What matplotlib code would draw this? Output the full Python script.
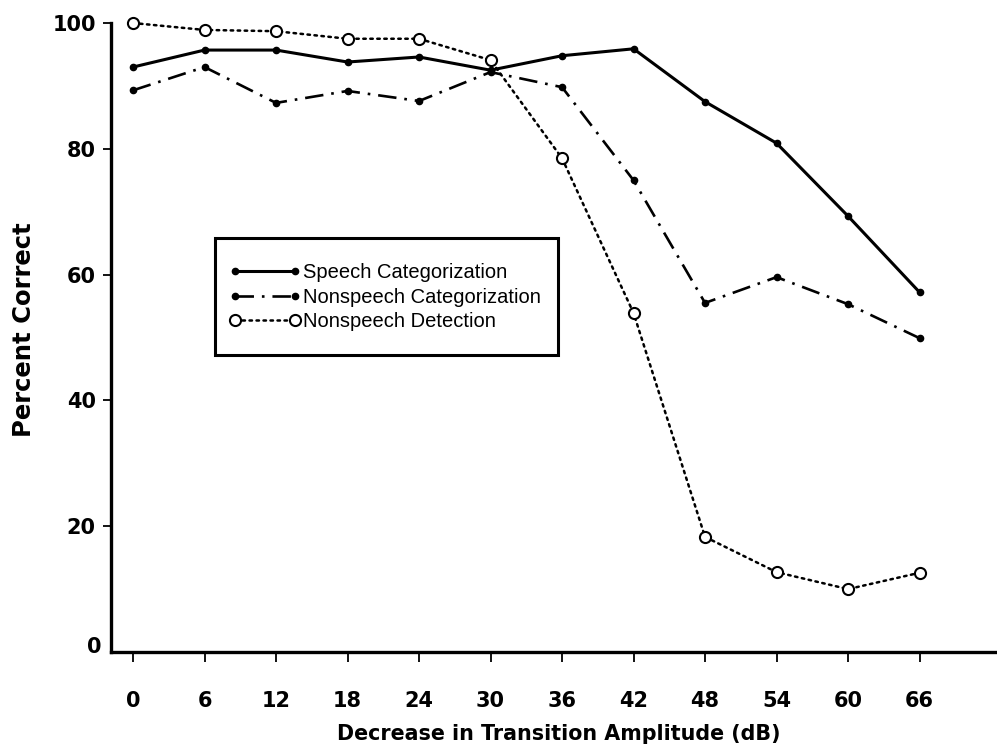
import matplotlib.pyplot as plt
import matplotlib.transforms as mtransforms
from matplotlib.patches import Rectangle

# transition amplitude decrease (dB)
db = [0, 6, 12, 18, 24, 30, 36, 42, 48, 54, 60, 66]

speech_cat = [93.0, 95.7, 95.7, 93.8, 94.6, 92.5, 94.8, 95.9, 87.5, 80.9, 69.3, 57.2]
nonspeech_cat = [89.3, 93.0, 87.3, 89.2, 87.6, 92.2, 89.8, 75.0, 55.5, 59.6, 55.3, 49.9]
nonspeech_det = [100.0, 98.9, 98.7, 97.5, 97.5, 94.1, 78.5, 53.9, 18.3, 12.7, 10.0, 12.6]

labels = ["Speech Categorization", "Nonspeech Categorization", "Nonspeech Detection"]
yticks = [0, 20, 40, 60, 80, 100]

plt.rcParams['font.family'] = ['Liberation Sans', 'DejaVu Sans']
bold_font = ['DejaVu Sans']

fig = plt.figure(figsize=(9.97, 7.45), dpi=100)
ax = fig.add_axes([0.1113, 0.1248, 0.8887, 0.8443])

ax.plot(db, speech_cat, color='black', lw=2.2, marker='o', ms=4.5,
        label=labels[0], clip_on=False)
ax.plot(db, nonspeech_cat, color='black', lw=1.9, marker='o', ms=4.5,
        dashes=(7, 3, 1, 3), label=labels[1], clip_on=False)
ax.plot(db, nonspeech_det, color='black', lw=1.8, linestyle=(0, (1, 1.8)),
        dash_capstyle='round', marker='o', ms=8, mfc='white', mec='black',
        mew=1.5, label=labels[2], clip_on=False)

ax.set_xlim(-1.85, 72.5)
ax.set_ylim(0, 100)
ax.set_xticks(db)
ax.set_yticks(yticks)

for side in ['top', 'right']:
    ax.spines[side].set_visible(False)
for side in ['left', 'bottom']:
    ax.spines[side].set_linewidth(2.4)

ax.tick_params(axis='x', direction='out', length=7, width=1.3, pad=21)
ax.tick_params(axis='y', direction='out', length=6, width=1.3, pad=5)
ax.yaxis.get_major_ticks()[0].tick1line.set_visible(False)
for t in ax.get_xticklabels() + ax.get_yticklabels():
    t.set_family(bold_font)
    t.set_fontweight('bold')
    t.set_fontsize(15)

# the 0 label sits a little above and right of the others
zero_lab = ax.get_yticklabels()[0]
zero_lab.set_transform(zero_lab.get_transform() +
                       mtransforms.ScaledTranslation(0.06, 0.07, fig.dpi_scale_trans))

ax.set_xlabel("Decrease in Transition Amplitude (dB)", fontsize=14.9,
              fontweight='bold', family=bold_font)
ax.xaxis.set_label_coords(0.505, -0.115)
ax.set_ylabel("Percent Correct", fontsize=17.5, fontweight='bold',
              family=bold_font)
ax.yaxis.set_label_coords(-0.085, 0.512)

# legend with a taller box than the entries need
leg = ax.legend(loc='upper left', bbox_to_anchor=(229 / 997, 1 - 263 / 745),
                bbox_transform=fig.transFigure, frameon=False, fontsize=14.5,
                numpoints=2, handlelength=3.58, handletextpad=0.1,
                labelspacing=0.28, borderpad=0, borderaxespad=0)
fig.patches.append(Rectangle((215 / 997, 1 - 355 / 745), 343 / 997, 117 / 745,
                             transform=fig.transFigure, fill=False,
                             edgecolor='black', lw=2.2))

fig.savefig("out.png", dpi=100)
